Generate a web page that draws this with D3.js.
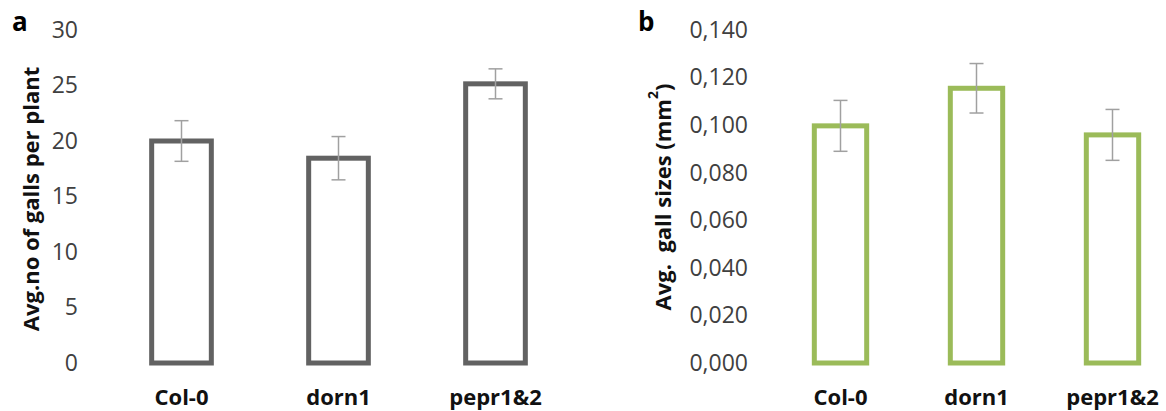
<!DOCTYPE html>
<html>
<head>
<meta charset="utf-8">
<script src="https://cdn.jsdelivr.net/npm/d3@7"></script>
<style>
  body { margin: 0; background: #fff; }
  svg text { font-family: "Open Sans", "Noto Sans", sans-serif; white-space: pre; }
  .axis .domain, .axis line { display: none; }
</style>
</head>
<body>
<div id="chart"></div>
<script>
// data
var genotypes = ["Col-0", "dorn1", "pepr1&2"];
var gallCount = [20.0, 18.45, 25.15];
var gallCountErr = [1.83, 1.95, 1.35];
var gallSize = [0.0997, 0.1155, 0.0959];
var gallSizeErr = [0.0107, 0.0104, 0.0107];
var countTicks = [0, 5, 10, 15, 20, 25, 30];
var sizeTicks = [0, 0.02, 0.04, 0.06, 0.08, 0.10, 0.12, 0.14];

var W = 1166, H = 411;
var base = 363;

var svg = d3.select("#chart")
    .append("svg")
    .attr("width", W)
    .attr("height", H);

function panel(opt) {
    var g = svg.append("g");

    var yScale = d3.scaleLinear()
        .domain([0, opt.max])
        .range([base, 30]);

    var xScale = d3.scaleBand()
        .domain(genotypes)
        .range(opt.xRange)
        .paddingInner(opt.pad)
        .paddingOuter(opt.pad / 2);

    var yAxis = d3.axisLeft(yScale)
        .tickValues(opt.ticks)
        .tickSize(0)
        .tickPadding(0)
        .tickFormat(opt.fmt);

    g.append("g")
        .attr("class", "y axis")
        .attr("transform", `translate(${opt.axisX},0)`)
        .call(yAxis)
        .selectAll("text")
        .attr("font-size", "23px")
        .attr("fill", "#404040");

    var xAxis = d3.axisBottom(xScale).tickSize(0);

    g.append("g")
        .attr("class", "x axis")
        .attr("transform", `translate(0,${base})`)
        .call(xAxis)
        .selectAll("text")
        .attr("dy", null)
        .attr("y", 42)
        .attr("font-size", "22px")
        .attr("font-weight", "bold")
        .attr("fill", "#111");

    // bars (outlined)
    g.selectAll("rect.bar")
        .data(opt.values)
        .enter()
        .append("rect")
        .attr("class", "bar")
        .attr("x", function (d, i) { return xScale(genotypes[i]); })
        .attr("width", xScale.bandwidth())
        .attr("y", function (d) { return yScale(d); })
        .attr("height", function (d) { return base - yScale(d); })
        .attr("fill", "#fff")
        .attr("stroke", opt.color)
        .attr("stroke-width", 5);

    // error bars
    var eb = g.selectAll("g.err")
        .data(opt.values)
        .enter()
        .append("g")
        .attr("class", "err")
        .attr("stroke", "#a0a0a0")
        .attr("stroke-width", 1.5);

    var cx = function (d, i) { return xScale(genotypes[i]) + xScale.bandwidth() / 2; };

    eb.append("line")
        .attr("x1", cx).attr("x2", cx)
        .attr("y1", function (d, i) { return yScale(d + opt.errs[i]); })
        .attr("y2", function (d, i) { return yScale(d - opt.errs[i]); });
    eb.append("line")
        .attr("x1", function (d, i) { return cx(d, i) - 7; })
        .attr("x2", function (d, i) { return cx(d, i) + 7; })
        .attr("y1", function (d, i) { return yScale(d + opt.errs[i]); })
        .attr("y2", function (d, i) { return yScale(d + opt.errs[i]); });
    eb.append("line")
        .attr("x1", function (d, i) { return cx(d, i) - 7; })
        .attr("x2", function (d, i) { return cx(d, i) + 7; })
        .attr("y1", function (d, i) { return yScale(d - opt.errs[i]); })
        .attr("y2", function (d, i) { return yScale(d - opt.errs[i]); });

    // y label
    var lab = g.append("text")
        .attr("transform", `translate(${opt.labelX},${opt.labelY}) rotate(-90)`)
        .attr("text-anchor", "middle")
        .attr("dominant-baseline", "central")
        .attr("font-size", "22px")
        .attr("font-weight", "bold")
        .attr("fill", "#111");
    opt.label(lab);

    // panel letter
    g.append("text")
        .attr("x", opt.letterX)
        .attr("y", 31)
        .attr("font-size", "26px")
        .attr("font-weight", "bold")
        .attr("fill", "#000")
        .text(opt.letter);
}

panel({
    values: gallCount, errs: gallCountErr, ticks: countTicks, max: 30,
    fmt: d3.format("d"),
    xRange: [103, 574], pad: 0.62, axisX: 78,
    color: "#626262",
    labelX: 30, labelY: 199,
    label: function (t) { t.text("Avg.no of galls per plant"); },
    letter: "a", letterX: 12
});

panel({
    values: gallSize, errs: gallSizeErr, ticks: sizeTicks, max: 0.14,
    fmt: function (d) { return d3.format(".3f")(d).replace(".", ","); },
    xRange: [772.5, 1180.5], pad: 0.615, axisX: 748,
    color: "#9bbb59",
    labelX: 662, labelY: 197,
    label: function (t) {
        t.append("tspan").text("Avg.  gall sizes (mm");
        t.append("tspan").attr("baseline-shift", "super").attr("font-size", "14px").text("2");
        t.append("tspan").text(")");
    },
    letter: "b", letterX: 638
});
</script>
</body>
</html>
